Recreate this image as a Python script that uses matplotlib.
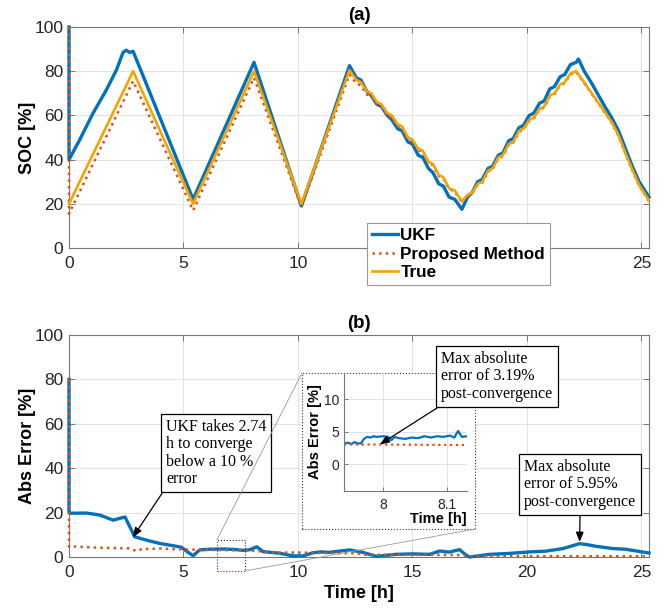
import numpy as np
import matplotlib
matplotlib.use("Agg")
from matplotlib import pyplot as plt
from matplotlib.patches import Rectangle, ConnectionPatch

plt.rcParams["font.family"] = ["Liberation Sans", "DejaVu Sans"]

# ---- (a) SOC traces ----
true_t = [0.0, 2.80, 5.42, 8.08, 10.15, 12.25, 12.55, 12.75, 13.00, 13.20, 13.45, 13.65, 13.90,
          14.10, 14.35, 14.55, 14.80, 15.00, 15.25, 15.45, 15.70, 15.90, 16.15, 16.35, 16.60,
          16.85, 17.16, 17.40, 17.60, 17.85, 18.05, 18.30, 18.50, 18.75, 18.95, 19.20, 19.40,
          19.65, 19.85, 20.10, 20.30, 20.55, 20.75, 21.00, 21.20, 21.45, 21.65, 21.90, 22.15,
          22.50, 22.80, 23.10, 23.40, 23.70, 24.00, 24.30, 24.60, 24.90, 25.33]
true_soc = [20, 80, 20, 80, 20, 80.5, 76, 75, 71, 70, 66, 65, 61,
            60, 56, 55, 50, 49, 45, 44, 39, 38, 33, 32, 27,
            26, 21, 24, 25, 29, 30, 35, 36, 41, 42, 47, 48,
            53, 54, 58, 59, 63, 64, 69, 70, 74, 75, 79, 80,
            75, 70.5, 66, 61.5, 57, 51, 43, 35.5, 28.5, 21.5]

ukf_t = [0.0, 0.0, 0.47, 1.05, 1.63, 2.07, 2.36, 2.50, 2.65, 2.80, 5.42, 8.08, 10.15, 12.25,
         12.55, 12.75, 13.00, 13.20, 13.45, 13.65, 13.90, 14.10, 14.35, 14.55, 14.80, 15.00,
         15.25, 15.45, 15.70, 15.90, 16.15, 16.35, 16.60, 16.85, 17.16, 17.40, 17.60, 17.85,
         18.05, 18.30, 18.50, 18.75, 18.95, 19.20, 19.40, 19.65, 19.85, 20.10, 20.30, 20.55,
         20.75, 21.00, 21.20, 21.45, 21.65, 21.90, 22.15, 22.25, 22.50, 22.80, 23.10, 23.40,
         23.70, 24.00, 24.30, 24.60, 24.90, 25.33]
ukf_soc = [100, 40, 49, 61, 71.5, 80.5, 88.5, 89.5, 88.5, 89, 22, 84, 19, 82.5,
           77, 76, 71, 69, 65, 64, 60, 58, 54, 53, 48, 47,
           42, 41, 36, 34, 29, 28, 23, 22, 17.5, 23, 25, 30,
           31, 36, 37, 42, 43, 48.5, 49.5, 54.5, 55.5, 60, 61, 65.5,
           66.5, 72, 73, 77.5, 78.5, 83, 84, 85.5, 80, 75, 69.5, 64,
           59, 53, 45, 37, 30, 23]

prop_t = [0.0, 0.0, 2.80, 5.42, 8.08, 10.15, 12.25, 12.55, 12.75, 13.00, 13.20, 13.45, 13.65,
          13.90, 14.10, 14.35, 14.55, 14.80, 15.00, 15.25, 15.45, 15.70, 15.90, 16.15, 16.35,
          16.60, 16.85, 17.16, 17.40, 17.60, 17.85, 18.05, 18.30, 18.50, 18.75, 18.95, 19.20,
          19.40, 19.65, 19.85, 20.10, 20.30, 20.55, 20.75, 21.00, 21.20, 21.45, 21.65, 21.90,
          22.15, 22.50, 22.80, 23.10, 23.40, 23.70, 24.00, 24.30, 24.60, 24.90, 25.33]
prop_soc = [100, 15.5, 75.5, 17, 77, 18.5, 78.5, 74.5, 73.5, 69.5, 68.5, 64.8, 63.8,
            59.8, 58.8, 55, 54, 49.2, 48.2, 44.3, 43.3, 38.4, 37.4, 32.5, 31.5,
            26.6, 25.6, 20.6, 23.6, 24.6, 28.6, 29.6, 34.6, 35.6, 40.6, 41.6, 46.6,
            47.6, 52.6, 53.6, 57.6, 58.6, 62.6, 63.6, 68.6, 69.6, 73.6, 74.6, 78.6,
            79.6, 74.6, 70.2, 65.7, 61.2, 56.7, 50.7, 42.7, 35.2, 28.2, 21.2]

# ---- (b) absolute error ----
err_ukf_t = [0.0, 0.0, 0.03, 0.76, 1.34, 1.93, 2.36, 2.45, 2.87, 3.38, 3.96, 4.55, 4.91, 5.20,
             5.42, 5.71, 6.15, 6.80, 7.20, 7.61, 7.90, 8.20, 8.48, 9.20, 9.78, 10.22, 10.66,
             11.00, 11.38, 12.25, 12.83, 13.42, 14.29, 15.00, 15.75, 16.19, 16.60, 17.06,
             17.35, 17.50, 18.37, 19.20, 20.12, 20.80, 21.57, 22.30, 22.60, 23.03, 23.76,
             24.30, 24.78, 25.33]
err_ukf = [80, 20, 19.7, 19.8, 18.9, 16.6, 17.8, 18.0, 9.1, 7.6, 6.1, 5.1, 4.4, 2.1,
           0.6, 3.2, 3.5, 3.6, 3.4, 3.0, 3.3, 4.6, 2.4, 1.7, 0.5, 0.5, 1.9,
           2.3, 2.1, 3.2, 2.1, 0.3, 1.2, 1.4, 1.2, 2.7, 2.2, 3.3,
           0.8, 0.0, 1.2, 1.6, 2.3, 2.6, 3.8, 6.0, 5.6, 4.8, 3.8,
           3.5, 2.7, 1.8]
err_prop_t = [0.0, 0.0, 0.1, 1.0, 2.0, 2.6, 2.95, 3.2, 4.0, 5.0, 6.0, 7.5, 8.5, 9.0, 10.0,
              11.0, 12.5, 13.0, 15.0, 17.0, 17.5, 20.0, 25.33]
err_prop = [80, 4.6, 4.8, 4.3, 4.0, 3.9, 2.7, 3.6, 3.8, 3.4, 3.2, 3.0, 2.5, 2.0, 2.0,
            1.8, 1.7, 1.0, 1.0, 0.9, 0.4, 0.4, 0.3]

# ---- inset (zoom around t = 8 h) ----
ins_t = [7.9385, 7.945, 7.950, 7.955, 7.960, 7.965, 7.970, 7.975, 7.980, 7.985, 7.990, 8.000,
         8.008, 8.013, 8.018, 8.025, 8.035, 8.045, 8.055, 8.065, 8.075, 8.085, 8.095, 8.105,
         8.112, 8.118, 8.124, 8.132]
ins_ukf = [3.2, 3.3, 3.1, 3.4, 3.2, 3.2, 3.9, 4.2, 4.1, 4.3, 4.2, 4.3,
           4.2, 3.7, 4.2, 4.0, 3.9, 4.1, 4.0, 4.3, 4.1, 4.3, 4.2, 4.4,
           4.1, 5.1, 4.2, 4.3]
ins_prop_t = [7.9385, 8.132]
ins_prop = [3.05, 2.95]

main_xticks = [0, 5, 10, 15, 20, 25]
top_xticklabels = ["0", "5", "10", "", "", "25"]  # 15 and 20 sit under the legend

C_UKF = "#0072BD"
C_PROP = "#D95319"
C_TRUE = "#F5A300"
SPINE = "#777777"
GRID = "#e3e3e3"

W, H = 671, 613
fig = plt.figure(figsize=(W / 100, H / 100), dpi=100)


def px(x0, y0, x1, y1):
    # pixel box (top-left origin) -> figure fraction rect
    return [x0 / W, 1 - y1 / H, (x1 - x0) / W, (y1 - y0) / H]


def style(ax, size=12.5):
    ax.grid(True, color=GRID, lw=0.7)
    ax.set_axisbelow(True)
    for s in ax.spines.values():
        s.set_color(SPINE)
        s.set_linewidth(0.8)
    ax.tick_params(direction="in", length=4, width=0.7, color=SPINE,
                   labelsize=size, labelcolor="#262626", top=True, right=True)
    ax.tick_params(axis="x", pad=6)
    ax.tick_params(axis="y", pad=4)


ax1 = fig.add_axes(px(69, 27, 649, 248))
ax2 = fig.add_axes(px(69, 335, 649, 557))
for ax in (ax1, ax2):
    style(ax)
    ax.set_xlim(0, 25.33)
    ax.set_ylim(0, 100)
    ax.set_xticks(main_xticks)
    ax.set_yticks([0, 20, 40, 60, 80, 100])
ax1.set_xticklabels(top_xticklabels)

ax1.plot(ukf_t, ukf_soc, color=C_UKF, lw=2.4, label="UKF", zorder=3, clip_on=False)
ax1.plot(prop_t, prop_soc, color=C_PROP, lw=1.8, ls=":", label="Proposed Method", zorder=3,
         clip_on=False)
ax1.plot(true_t, true_soc, color=C_TRUE, lw=1.9, label="True", zorder=3, clip_on=False)
ax1.set_ylabel("SOC [%]", fontsize=13, fontweight="bold", labelpad=-1)
ax1.set_title("(a)", fontsize=13.5, fontweight="bold", pad=5)
leg = ax1.legend(loc="upper left", bbox_to_anchor=(367 / W, 1 - 223 / H),
                 bbox_transform=fig.transFigure, borderaxespad=0, fancybox=False,
                 framealpha=1, edgecolor="#999999", prop={"weight": "bold", "size": 12.3},
                 handlelength=1.5, handletextpad=0.15, labelspacing=0.2, borderpad=0.3)
leg.get_frame().set_linewidth(0.8)
leg.set_zorder(20)

ax2.plot(err_ukf_t, err_ukf, color=C_UKF, lw=2.4, zorder=3, clip_on=False)
ax2.plot(err_prop_t, err_prop, color=C_PROP, lw=1.8, ls=":", zorder=3, clip_on=False)
ax2.set_ylabel("Abs Error [%]", fontsize=13, fontweight="bold", labelpad=-1)
ax2.set_xlabel("Time [h]", fontsize=13, fontweight="bold", labelpad=3)
ax2.set_title("(b)", fontsize=13.5, fontweight="bold", pad=5)

# zoom box + connectors
zt0, zt1, zy0, zy1 = 6.46, 7.68, -6.3, 7.7
ax2.add_patch(Rectangle((zt0, zy0), zt1 - zt0, zy1 - zy0, fill=False, ls=":",
                        lw=0.8, ec="#333333", clip_on=False, zorder=5))
box = px(302, 373, 475, 529)
fig.patches.append(Rectangle((box[0], box[1]), box[2], box[3], transform=fig.transFigure,
                             fill=True, fc="white", ls=":", lw=0.8, ec="#333333", zorder=3))
for (xa, ya), (xb, yb) in [((zt0, zy1), (box[0], box[1] + box[3])),
                           ((zt1, zy0), (box[0] + box[2], box[1]))]:
    fig.add_artist(ConnectionPatch((xa, ya), (xb, yb), coordsA=ax2.transData,
                                   coordsB=fig.transFigure, color="#999999", lw=0.6))

axi = fig.add_axes(px(344, 373, 467, 491), zorder=6)
axi.patch.set_alpha(0)
axi.grid(True, color=GRID, lw=0.7)
for k in ("top", "right"):
    axi.spines[k].set_visible(False)
for k in ("left", "bottom"):
    axi.spines[k].set_color(SPINE)
    axi.spines[k].set_linewidth(0.8)
axi.tick_params(direction="in", length=3, width=0.7, color=SPINE, labelsize=10,
                labelcolor="#262626")
axi.tick_params(axis="x", pad=5)
axi.plot(ins_t, ins_ukf, color=C_UKF, lw=1.6)
axi.plot(ins_prop_t, ins_prop, color=C_PROP, lw=1.6, ls=":")
axi.set_xlim(7.9385, 8.132)
axi.set_ylim(-4.1, 14)
axi.set_xticks([8, 8.1])
axi.set_xticklabels(["8", "8.1"])
axi.set_yticks([0, 5, 10])
axi.set_ylabel("Abs Error [%]", fontsize=10.5, fontweight="bold", labelpad=1)
axi.set_xlabel("Time [h]", fontsize=10.5, fontweight="bold")
axi.xaxis.set_label_coords(1.0, -0.18)
axi.xaxis.label.set_ha("right")
axi.xaxis.label.set_va("top")

# annotations
serif = dict(family=["Liberation Serif", "DejaVu Serif"], size=11.5)
bb = dict(boxstyle="square,pad=0.3", fc="white", ec="black", lw=0.9)
arr = dict(arrowstyle="-|>,head_length=0.5,head_width=0.2", color="black", lw=0.9,
           shrinkA=0, shrinkB=0)

ax2.annotate("UKF takes 2.74\nh to converge\nbelow a 10 %\nerror", xy=(2.79, 8.9),
             xytext=(166 / W, 1 - 419 / H), textcoords="figure fraction",
             ha="left", va="top", bbox=bb, linespacing=1.12,
             arrowprops=dict(arr, relpos=(0, 0)), zorder=10, **serif)
axi.annotate("Max absolute\nerror of 3.19%\npost-convergence", xy=(7.995, 3.05),
             xytext=(441 / W, 1 - 351 / H), textcoords="figure fraction",
             ha="left", va="top", bbox=bb, linespacing=1.12,
             arrowprops=dict(arr, relpos=(0.05, 0)), zorder=10, annotation_clip=False, **serif)
ax2.annotate("Max absolute\nerror of 5.95%\npost-convergence", xy=(22.3, 6.8),
             xytext=(524 / W, 1 - 459 / H), textcoords="figure fraction",
             ha="left", va="top", bbox=bb, linespacing=1.12,
             arrowprops=dict(arr, relpos=(0.5, 0)), zorder=10, **serif)

fig.savefig("out.png", dpi=100)
